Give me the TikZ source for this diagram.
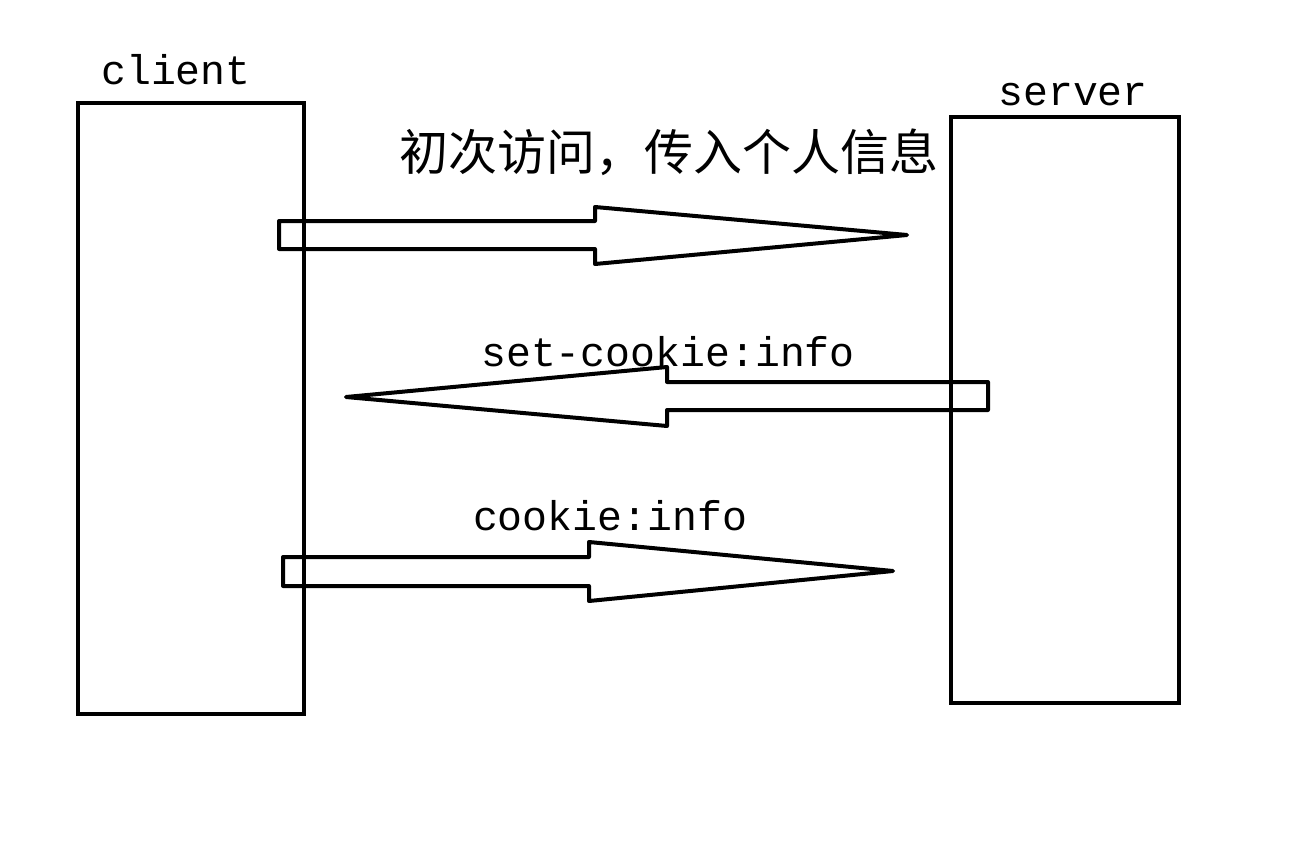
\documentclass[tikz,border=0pt]{standalone}
\usepackage{fontspec}
\setmonofont{Liberation Mono}
\newfontfamily\cjk{Noto Sans CJK SC}
\begin{document}
\begin{tikzpicture}[x=1pt,y=-1pt,
  box/.style={draw=black,line width=4pt},
  blockarrow/.style={draw=black,line width=4pt,line join=round,fill=white},
  lbl/.style={inner sep=0pt,anchor=base,font=\fontsize{41.5}{41.5}\selectfont\ttfamily},
  cjklbl/.style={inner sep=0pt,font=\fontsize{49}{49}\selectfont\cjk}]
\useasboundingbox[fill=white] (0,0) rectangle (1314,856);
% boxes
\draw[box] (78,103) rectangle (304,714);
\node[lbl] (clientlbl) at (176,85) {client};
\draw[box] (951,117) rectangle (1179,703);
\node[lbl] (serverlbl) at (1073,106) {server};
% arrow 1
\coordinate (a1t) at (907,235);
\draw[blockarrow] (279,221) -- (595,221) -- (595,207) -- (a1t) -- (595,264) -- (595,249) -- (279,249) -- cycle;
\draw[line width=4pt] (304,210) -- (304,260);
\node[cjklbl] (title) at (669,152) {初次访问，传入个人信息};
% arrow 2
\coordinate (a2t) at (346,397);
\draw[blockarrow] (988,382) -- (667,382) -- (667,367) -- (a2t) -- (667,426) -- (667,410) -- (988,410) -- cycle;
\draw[line width=4pt] (951,370) -- (951,420);
\node[lbl] (setlbl) at (668,366) {set-cookie:info};
% arrow 3
\coordinate (a3t) at (893,571);
\draw[blockarrow] (283,557) -- (589,557) -- (589,542) -- (a3t) -- (589,601) -- (589,586) -- (283,586) -- cycle;
\draw[line width=4pt] (304,545) -- (304,597);
\node[lbl] (cookielbl) at (610,530) {cookie:info};
\end{tikzpicture}
\end{document}
